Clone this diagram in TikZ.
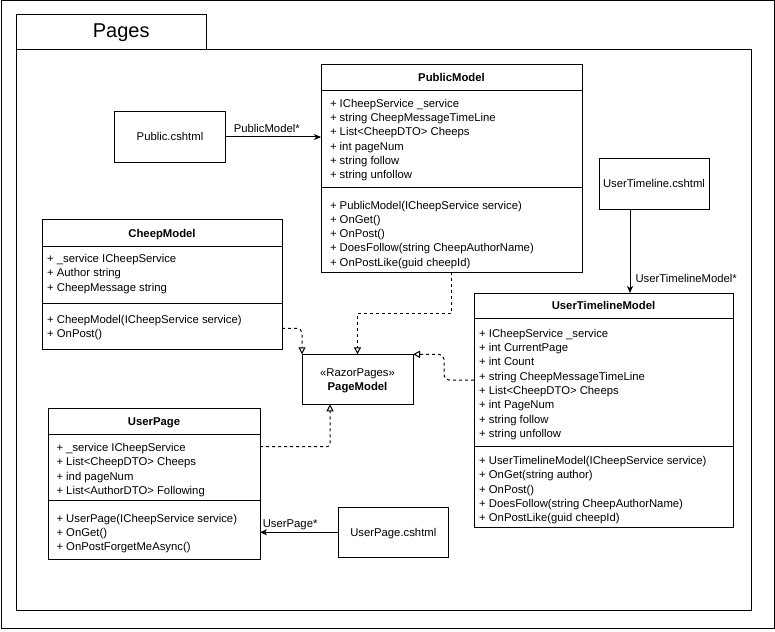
\documentclass[tikz,border=0pt]{standalone}
\usepackage{fontspec}
\setmainfont{Liberation Sans}
\usetikzlibrary{arrows.meta}
\begin{document}
\begin{tikzpicture}[x=1pt,y=-1pt,line width=1pt,
  frame/.style={draw,line width=1pt,inner sep=0pt,outer sep=0pt,anchor=north west},
  txt/.style={inner sep=0pt,text height=7.6pt,text depth=0pt,font=\fontsize{11.3}{13}\selectfont},
  member/.style={txt,anchor=west},
  title/.style={txt,font=\fontsize{11.3}{13}\selectfont\bfseries},
  assoc/.style={-{Stealth[length=7pt,width=6pt,inset=2pt]}},
  realize/.style={dash pattern=on 3pt off 3pt,-{Triangle[open,length=7pt,width=7pt]}},
]
\useasboundingbox (0,0) rectangle (775,631);

% outer border and package
\node[frame,minimum width=773pt,minimum height=627pt] (border) at (1,1) {};
\node[frame,minimum width=190pt,minimum height=35pt] (pkgtab) at (16,15) {};
\node[frame,minimum width=735pt,minimum height=560pt] (pkg) at (16,50) {};
\node[anchor=base,inner sep=0pt,font=\fontsize{20}{24}\selectfont] (pkgname) at (121.2,37.3) {Pages};

% PublicModel
\node[frame,minimum width=261pt,minimum height=207pt] (pm) at (321,65) {};
\draw (pm.west |- 0,90.5) -- (pm.east |- 0,90.5);
\draw (pm.west |- 0,187.5) -- (pm.east |- 0,187.5);
\node[title] (pmt) at (451.5,78) {PublicModel};
\node[member] (pm1) at (329.5,103.3) {+ ICheepService \_service};
\node[member] (pm2) at (329.5,117.6) {+ string CheepMessageTimeLine};
\node[member] (pm3) at (329.5,131.9) {+ List<CheepDTO> Cheeps};
\node[member] (pm4) at (329.5,146.2) {+ int pageNum};
\node[member] (pm5) at (329.5,160.5) {+ string follow};
\node[member] (pm6) at (329.5,174.8) {+ string unfollow};
\node[member] (pm7) at (329.5,205.3) {+ PublicModel(ICheepService service)};
\node[member] (pm8) at (329.5,219.5) {+ OnGet()};
\node[member] (pm9) at (329.5,233.7) {+ OnPost()};
\node[member] (pm10) at (329.5,248) {+ DoesFollow(string CheepAuthorName)};
\node[member] (pm11) at (329.5,262.2) {+ OnPostLike(guid cheepId)};

% CheepModel
\node[frame,minimum width=240pt,minimum height=130pt] (cm) at (42,219) {};
\draw (cm.west |- 0,246) -- (cm.east |- 0,246);
\draw (cm.west |- 0,303.3) -- (cm.east |- 0,303.3);
\node[title] (cmt) at (162,233.5) {CheepModel};
\node[member] (cm1) at (46.7,258.6) {+ \_service ICheepService};
\node[member] (cm2) at (46.7,273) {+ Author string};
\node[member] (cm3) at (46.7,287.4) {+ CheepMessage string};
\node[member] (cm4) at (46.7,319.5) {+ CheepModel(ICheepService service)};
\node[member] (cm5) at (46.7,334) {+ OnPost()};

% UserPage
\node[frame,minimum width=212pt,minimum height=151pt] (up) at (48,408) {};
\draw (up.west |- 0,434) -- (up.east |- 0,434);
\draw (up.west |- 0,500) -- (up.east |- 0,500);
\node[title] (upt) at (154,422) {UserPage};
\node[member] (up1) at (56,447.7) {+ \_service ICheepService};
\node[member] (up2) at (56,462) {+ List<CheepDTO> Cheeps};
\node[member] (up3) at (56,476.3) {+ ind pageNum};
\node[member] (up4) at (56,490.7) {+ List<AuthorDTO> Following};
\node[member] (up5) at (56,518.7) {+ UserPage(ICheepService service)};
\node[member] (up6) at (56,532.7) {+ OnGet()};
\node[member] (up7) at (56,546.7) {+ OnPostForgetMeAsync()};

% UserTimelineModel
\node[frame,minimum width=259pt,minimum height=234pt] (utm) at (474,293) {};
\draw (utm.west |- 0,318.5) -- (utm.east |- 0,318.5);
\draw (utm.west |- 0,446.7) -- (utm.east |- 0,446.7);
\node[title] (utmt) at (603.5,306) {UserTimelineModel};
\node[member] (utm1) at (478.7,333.3) {+ ICheepService \_service};
\node[member] (utm2) at (478.7,347.7) {+ int CurrentPage};
\node[member] (utm3) at (478.7,362) {+ int Count};
\node[member] (utm4) at (478.7,376.4) {+ string CheepMessageTimeLine};
\node[member] (utm5) at (478.7,390.7) {+ List<CheepDTO> Cheeps};
\node[member] (utm6) at (478.7,405) {+ int PageNum};
\node[member] (utm7) at (478.7,419.4) {+ string follow};
\node[member] (utm8) at (478.7,433.7) {+ string unfollow};
\node[member] (utm9) at (478.7,460.7) {+ UserTimelineModel(ICheepService service)};
\node[member] (utm10) at (478.7,475) {+ OnGet(string author)};
\node[member] (utm11) at (478.7,489.3) {+ OnPost()};
\node[member] (utm12) at (478.7,503.7) {+ DoesFollow(string CheepAuthorName)};
\node[member] (utm13) at (478.7,518) {+ OnPostLike(guid cheepId)};

% PageModel
\node[frame,minimum width=111pt,minimum height=50pt] (pgm) at (302,354.3) {};
\node[txt] (pgms) at (357.5,372.3) {«RazorPages»};
\node[title] (pgmt) at (357.5,386.7) {PageModel};

% Razor views
\node[frame,minimum width=111pt,minimum height=50pt] (pubv) at (114.5,112) {};
\node[txt] (pubvt) at (pubv.center) {Public.cshtml};
\node[frame,minimum width=110pt,minimum height=50.5pt] (utv) at (599,158.5) {};
\node[txt] (utvt) at (utv.center) {UserTimeline.cshtml};
\node[frame,minimum width=110pt,minimum height=50pt] (upv) at (338.3,507.3) {};
\node[txt] (upvt) at (upv.center) {UserPage.cshtml};

% associations from the views to their page models
\draw[assoc] (pubv.east) -- (pubv.east -| pm.west);
\node[txt,anchor=west] (publ) at (233.3,128.3) {PublicModel*};
\coordinate (utvout) at ([xshift=31pt]utv.south west);
\draw[assoc] (utvout) -- (utvout |- utm.north);
\node[txt,anchor=west] (utvl) at (635,278.3) {UserTimelineModel*};
\draw[assoc] (upv.west) -- (upv.west -| up.east);
\node[txt,anchor=west] (upl) at (262.3,523.3) {UserPage*};

% realizations of PageModel
\draw[realize,rounded corners=5pt] (cm.east |- 0,328.3) -| (pgm.north west);
\draw[realize] (pm.south) -- ++(0,41) -| (pgm.north);
\draw[realize,rounded corners=5pt] (utm.west |- 0,380) -- (444,380) |- (pgm.north east);
\coordinate (pgmin) at ([xshift=-27.5pt]pgm.south);
\draw[realize,rounded corners=3pt] (up.east |- 0,446.7) -| (pgmin);
\end{tikzpicture}
\end{document}
